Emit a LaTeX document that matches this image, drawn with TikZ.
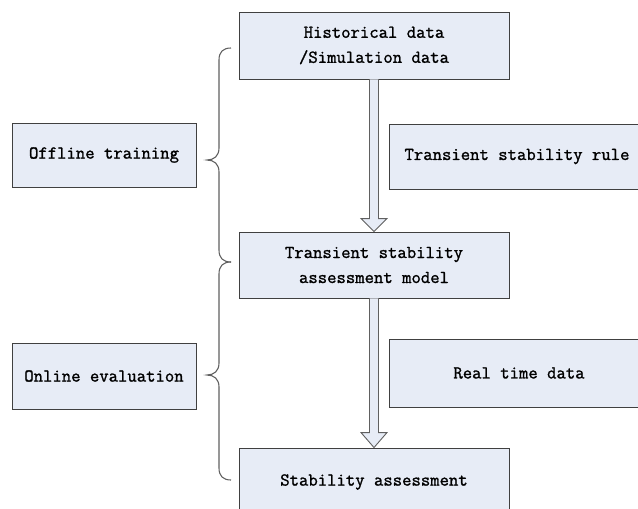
\documentclass[tikz,border=0pt]{standalone}
\usepackage{fontspec}
\newfontfamily\diagfont{Latin Modern Mono}[FakeBold=1.3]
\usetikzlibrary{calc}
\definecolor{boxfill}{RGB}{231,236,246}
\definecolor{boxline}{RGB}{64,64,64}
\definecolor{bracecol}{RGB}{96,96,96}
\tikzset{
  box/.style={draw=boxline, fill=boxfill, line width=0.9pt, inner sep=0pt,
    align=center, font=\diagfont\fontsize{18.2}{25}\selectfont, text=black},
  fatarrow/.style={draw=bracecol, fill=boxfill, line width=0.9pt, line join=miter},
  bracepath/.style={draw=bracecol, line width=1.1pt}
}
\begin{document}
\begin{tikzpicture}[x=1pt,y=-1pt]
\useasboundingbox (0,0) rectangle (638,509);
\clip (0,0) rectangle (638,509);
% nodes
\node[box, minimum width=270, minimum height=67] (top) at (374,45.5) {Historical data\\/Simulation data};
\node[box, minimum width=270, minimum height=66] (tsa) at (374,265) {Transient stability\\assessment model};
\node[box, minimum width=270, minimum height=68] (sa) at (374,482) {Stability assessment};
\node[box, minimum width=262, minimum height=65] (rule) at (520,156.5) {\hspace*{-6pt}Transient stability rule};
\node[box, minimum width=262, minimum height=68] (rtd) at (520,373) {\hspace*{-2pt}Real time data};
\node[box, minimum width=184, minimum height=64] (off) at (104,155) {Offline training};
\node[box, minimum width=184, minimum height=66] (on) at (104,376) {Online evaluation};
% fat arrows
\draw[fatarrow] ($(top.south)+(-4.5,0)$) -- ($(tsa.north)+(-4.5,-13)$) -- ($(tsa.north)+(-13,-13)$)
  -- (tsa.north) -- ($(tsa.north)+(13,-13)$) -- ($(tsa.north)+(4.5,-13)$) -- ($(top.south)+(4.5,0)$);
\draw[fatarrow] ($(tsa.south)+(-4.5,0)$) -- ($(sa.north)+(-4.5,-15)$) -- ($(sa.north)+(-13,-15)$)
  -- (sa.north) -- ($(sa.north)+(13,-15)$) -- ($(sa.north)+(4.5,-15)$) -- ($(tsa.south)+(4.5,0)$);
% braces
\coordinate (b1top) at (231,48);
\coordinate (b1tip) at (207,160);
\coordinate (bmid) at (231,262);
\coordinate (b2tip) at (207,375);
\coordinate (b2bot) at (231,480);
\draw[bracepath] (b1top) .. controls (223,48) and (219,52) .. (219,60) -- (219,148)
  .. controls (219,156) and (214,160) .. (b1tip) .. controls (214,160) and (219,164) .. (219,172)
  -- (219,250) .. controls (219,258) and (223,262) .. (bmid);
\draw[bracepath] (bmid) .. controls (223,262) and (219,266) .. (219,274) -- (219,363)
  .. controls (219,371) and (214,375) .. (b2tip) .. controls (214,375) and (219,379) .. (219,387)
  -- (219,468) .. controls (219,476) and (223,480) .. (b2bot);
\end{tikzpicture}
\end{document}
